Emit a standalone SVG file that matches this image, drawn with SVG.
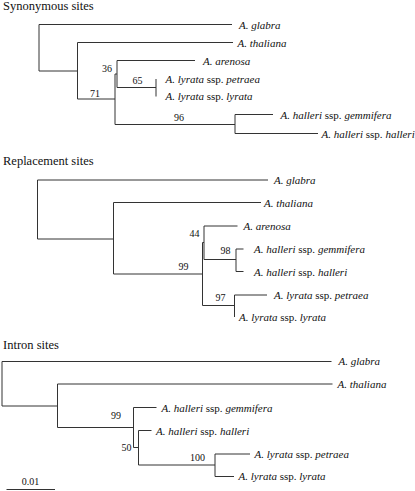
<svg xmlns="http://www.w3.org/2000/svg" width="415" height="491" viewBox="0 0 415 491" font-family="'Liberation Serif', 'DejaVu Serif', serif">
<style>
text{font-family:'Liberation Serif','DejaVu Serif',serif;fill:#111}
.t{font-size:12.5px}
.l{font-size:11px}
.i{font-style:italic}
.n{font-size:10px;text-anchor:middle}
.e{stroke:#333;stroke-width:1;fill:none}
</style>
<rect width="415" height="491" fill="#fff"/>
<g id="titles">
<text class="t" x="3" y="10">Synonymous sites</text>
<text class="t" x="3" y="164.5">Replacement sites</text>
<text class="t" x="3" y="348.5">Intron sites</text>
</g>
<g id="connectors" class="e">
<path d="M39,24.5V71M39,24.5H232M39,71H77.5M77.5,42.5V99M77.5,42.5H233M77.5,99H115M115,74V124.5M115,74H117M117,60.5V87.5M117,60.5H195M117,87.5H156M156,79V96.5M115,124.5H235M235,114.5V133.5M235,114.5H273M235,133.5H318"/>
<path d="M37.5,180V239M37.5,180H268M37.5,239H113.5M113.5,202.5V274M113.5,202.5H261M113.5,274H202.5M202.5,242.5V305.5M202.5,242.5H204M204,226V259.5M204,226H237.5M204,259.5H236M236,249V271.5M236,249H243.5M236,271.5H243.5M202.5,305.5H234.5M234.5,295V317M234.5,295H267"/>
<path d="M2,361.5V406M2,361.5H331.5M2,406H57.5M57.5,384V427.5M57.5,384H332.5M57.5,427.5H133.5M133.5,407.5V447.5M133.5,407.5H156.5M133.5,447.5H138.5M138.5,430.5V465M138.5,430.5H151.5M138.5,465H215M215,454V476.5M215,454H250M215,476.5H234"/>
<path d="M6.5,489.5H55"/>
</g>
<g id="syn-glabra"><text class="l" x="239" y="28.5"><tspan class="i">A. glabra</tspan></text></g>
<g id="syn-thaliana"><text class="l" x="237.5" y="46.5"><tspan class="i">A. thaliana</tspan></text></g>
<g id="syn-arenosa"><text class="l" x="203" y="64.5"><tspan class="i">A. arenosa</tspan></text></g>
<g id="syn-petraea"><text class="l" x="165.5" y="83"><tspan class="i">A. lyrata</tspan> ssp. <tspan class="i">petraea</tspan></text></g>
<g id="syn-lyrata"><text class="l" x="165.5" y="100"><tspan class="i">A. lyrata</tspan> ssp. <tspan class="i">lyrata</tspan></text></g>
<g id="syn-gemmifera"><text class="l" x="280.5" y="118.5"><tspan class="i">A. halleri</tspan> ssp. <tspan class="i">gemmifera</tspan></text></g>
<g id="syn-halleri"><text class="l" x="321.5" y="137.5"><tspan class="i">A. halleri</tspan> ssp. <tspan class="i">halleri</tspan></text></g>
<g id="syn-n36"><text class="n" x="107" y="71.5">36</text></g>
<g id="syn-n65"><text class="n" x="137.5" y="84">65</text></g>
<g id="syn-n71"><text class="n" x="95" y="96.5">71</text></g>
<g id="syn-n96"><text class="n" x="179" y="120.5">96</text></g>
<g id="rep-glabra"><text class="l" x="274" y="184"><tspan class="i">A. glabra</tspan></text></g>
<g id="rep-thaliana"><text class="l" x="264" y="206.5"><tspan class="i">A. thaliana</tspan></text></g>
<g id="rep-arenosa"><text class="l" x="243.5" y="229.5"><tspan class="i">A. arenosa</tspan></text></g>
<g id="rep-gemmifera"><text class="l" x="254" y="253"><tspan class="i">A. halleri</tspan> ssp. <tspan class="i">gemmifera</tspan></text></g>
<g id="rep-halleri"><text class="l" x="254" y="275.5"><tspan class="i">A. halleri</tspan> ssp. <tspan class="i">halleri</tspan></text></g>
<g id="rep-petraea"><text class="l" x="274" y="298.5"><tspan class="i">A. lyrata</tspan> ssp. <tspan class="i">petraea</tspan></text></g>
<g id="rep-lyrata"><text class="l" x="239" y="321"><tspan class="i">A. lyrata</tspan> ssp. <tspan class="i">lyrata</tspan></text></g>
<g id="rep-n44"><text class="n" x="194.5" y="237">44</text></g>
<g id="rep-n98"><text class="n" x="225.5" y="253.5">98</text></g>
<g id="rep-n99"><text class="n" x="183.5" y="270">99</text></g>
<g id="rep-n97"><text class="n" x="220.5" y="300.5">97</text></g>
<g id="int-glabra"><text class="l" x="338.5" y="365"><tspan class="i">A. glabra</tspan></text></g>
<g id="int-thaliana"><text class="l" x="337.5" y="387.5"><tspan class="i">A. thaliana</tspan></text></g>
<g id="int-gemmifera"><text class="l" x="161.5" y="411.5"><tspan class="i">A. halleri</tspan> ssp. <tspan class="i">gemmifera</tspan></text></g>
<g id="int-halleri"><text class="l" x="156" y="434.5"><tspan class="i">A. halleri</tspan> ssp. <tspan class="i">halleri</tspan></text></g>
<g id="int-petraea"><text class="l" x="254.5" y="457.5"><tspan class="i">A. lyrata</tspan> ssp. <tspan class="i">petraea</tspan></text></g>
<g id="int-lyrata"><text class="l" x="238.5" y="480"><tspan class="i">A. lyrata</tspan> ssp. <tspan class="i">lyrata</tspan></text></g>
<g id="int-n99"><text class="n" x="116" y="418.5">99</text></g>
<g id="int-n50"><text class="n" x="126.5" y="451">50</text></g>
<g id="int-n100"><text class="n" x="197.5" y="460.5">100</text></g>
<g id="scale"><text class="n" x="30.5" y="484.5">0.01</text></g>
</svg>
